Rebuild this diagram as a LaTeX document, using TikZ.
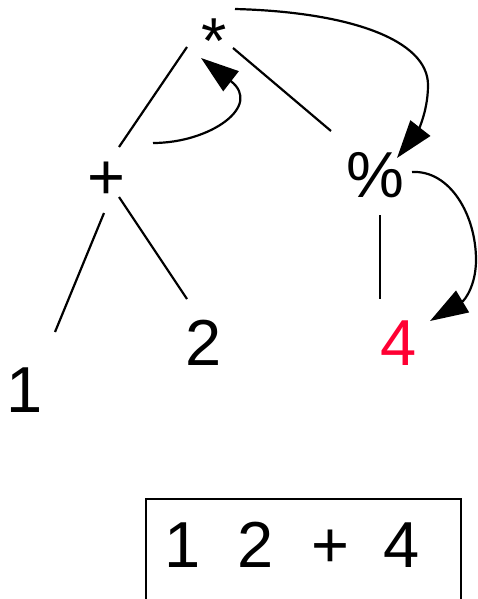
\documentclass[tikz,border=0pt]{standalone}
\usepackage{fontspec}
\setmainfont{Liberation Sans}
\usetikzlibrary{arrows.meta,calc}
\definecolor{numred}{RGB}{255,0,51}
\tikzset{
  lbl/.style={inner sep=0pt, anchor=base, font=\fontsize{65}{78}\selectfont},
  edge/.style={line width=2.2pt},
  arc/.style={line width=2.2pt, -{Triangle[length=38pt,width=25pt]}},
  frame/.style={line width=1.6pt}
}
\begin{document}
\begin{tikzpicture}[x=1pt,y=-1pt]
\useasboundingbox (0,0) rectangle (477,599);
% tree nodes
\node[lbl] (star) at (214,64) {*};
\node[lbl] (plus) at (106,199) {+};
\node[lbl] (pct) at (375,197) {\%};
\node[lbl] (one) at (25,412) {1};
\node[lbl] (two) at (204,365) {2};
\node[lbl, text=numred] (four) at (399,365) {4};
% tree edges
\draw[edge] ($(star.base)+(-27,-17)$) -- ($(plus.base)+(13,-52)$);
\draw[edge] ($(star.base)+(19,-16)$) -- ($(pct.base)+(-44,-66)$);
\draw[edge] ($(plus.base)+(-2,14)$) -- ($(one.base)+(30,-80)$);
\draw[edge] ($(plus.base)+(13,-2)$) -- ($(two.base)+(-17,-66)$);
\draw[edge] ($(pct.base)+(5,18)$) -- ($(four.base)+(-19,-66)$);
% curved arrows
\draw[arc] ($(plus.base)+(47,-56)$) .. controls (210,143) and (263,106) .. ($(star.base)+(-13,-6)$);
\draw[arc] ($(star.base)+(21,-55)$) .. controls (350,12) and (428,40) .. (428,85)
   .. controls (428,115) and (415,135) .. ($(pct.base)+(22,-39)$);
\draw[arc] ($(pct.base)+(37,-25)$) .. controls (450,170) and (476,215) .. (476,260)
   .. controls (476,285) and (465,300) .. ($(four.base)+(31,-44)$);
% output box
\node[lbl] (b1) at (183,567) {1};
\node[lbl] (b2) at (256,567) {2};
\node[lbl] (b3) at (330,567) {+};
\node[lbl] (b4) at (402,567) {4};
\draw[frame] ($(b1.base)+(-37,33)$) -- ($(b1.base)+(-37,-68)$) -- ($(b4.base)+(59,-68)$) -- ($(b4.base)+(59,33)$);
\end{tikzpicture}
\end{document}
